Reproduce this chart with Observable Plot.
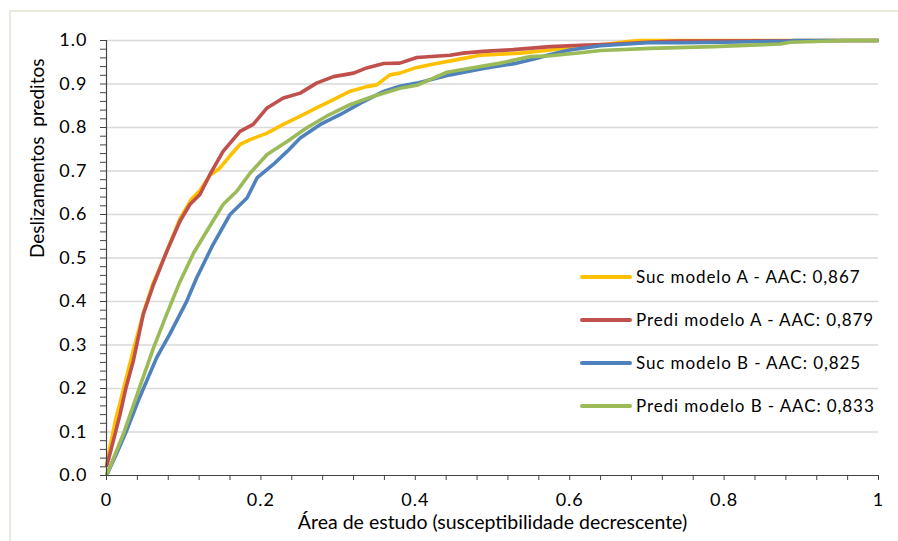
<!DOCTYPE html>
<html><head><meta charset="utf-8">
<script src="https://cdn.jsdelivr.net/npm/d3@7"></script>
<script src="https://cdn.jsdelivr.net/npm/@observablehq/plot@0.6"></script>
<style>
body{margin:0;background:#fff;}
#wrap{position:relative;width:898px;height:541px;overflow:hidden;font-family:Lato,"Open Sans",sans-serif;}
#wrap svg{position:absolute;left:0;top:0;}
#border{position:absolute;left:9px;top:10px;width:1000px;height:1000px;border:2px solid #ebeadf;box-sizing:border-box;}
#legend{position:absolute;left:580px;top:255px;}
.row{display:flex;align-items:center;height:43px;font-size:17px;letter-spacing:0.9px;color:#000;white-space:nowrap;}
.sw{width:52px;height:4px;margin-right:4px;border-radius:2px;}
g[aria-label="y-axis tick label"] text, g[aria-label="x-axis tick label"] text{letter-spacing:1px;}
g[aria-label="xtitle"] text{letter-spacing:0.9px;}
g[aria-label="ytitle"] text{letter-spacing:0.6px;}
</style></head><body>
<div id="wrap"><div id="border"></div></div>
<script>
// ---- data ----
const sucAx = [0,0.005,0.012,0.018,0.025,0.035,0.048,0.06,0.078,0.095,0.11,0.121,0.134,0.147,0.16,0.173,0.186,0.208,0.229,0.251,0.272,0.294,0.315,0.337,0.35,0.367,0.38,0.398,0.419,0.454,0.484,0.536,0.575,0.614,0.65,0.678,0.69,1];
const sucAy = [0.023,0.07,0.13,0.17,0.22,0.29,0.375,0.44,0.515,0.59,0.635,0.655,0.69,0.707,0.735,0.761,0.772,0.787,0.807,0.826,0.845,0.864,0.883,0.894,0.898,0.921,0.925,0.936,0.944,0.956,0.966,0.971,0.978,0.986,0.992,0.998,1,1];
const preAx = [0,0.006,0.0175,0.025,0.0348,0.0477,0.0607,0.078,0.0953,0.108,0.121,0.134,0.151,0.173,0.19,0.208,0.229,0.251,0.272,0.294,0.32,0.337,0.359,0.38,0.402,0.445,0.462,0.488,0.527,0.575,0.614,0.66,0.7,0.739,1];
const preAy = [0.02,0.06,0.14,0.2,0.264,0.371,0.438,0.515,0.585,0.623,0.646,0.692,0.745,0.791,0.807,0.845,0.868,0.879,0.902,0.917,0.925,0.937,0.947,0.948,0.961,0.966,0.971,0.975,0.979,0.986,0.989,0.992,0.996,0.999,1];
const sucBx = [0,0.013,0.026,0.043,0.065,0.082,0.104,0.117,0.138,0.16,0.182,0.195,0.216,0.234,0.251,0.277,0.303,0.329,0.359,0.38,0.402,0.445,0.49,0.532,0.555,0.575,0.6,0.64,0.7,0.743,0.8,0.886,0.89,1];
const sucBy = [0,0.05,0.103,0.18,0.271,0.325,0.401,0.455,0.531,0.6,0.638,0.684,0.715,0.745,0.776,0.807,0.83,0.856,0.883,0.895,0.902,0.921,0.936,0.948,0.958,0.968,0.978,0.988,0.995,0.995,0.996,0.999,1,1];
const preBx = [0,0.022,0.043,0.061,0.078,0.095,0.113,0.13,0.151,0.169,0.186,0.208,0.234,0.259,0.285,0.316,0.346,0.38,0.402,0.441,0.51,0.549,0.575,0.614,0.64,0.704,0.786,0.873,0.886,0.96,1];
const preBy = [0,0.096,0.203,0.294,0.371,0.445,0.512,0.562,0.623,0.654,0.695,0.738,0.768,0.799,0.826,0.853,0.872,0.89,0.897,0.927,0.948,0.963,0.965,0.972,0.977,0.982,0.986,0.992,0.996,1,1];

const seriesNames = ["Suc modelo A - AAC: 0,867","Predi modelo A - AAC: 0,879","Suc modelo B - AAC: 0,825","Predi modelo B - AAC: 0,833"];
const seriesColors = ["#FFC000","#C0504D","#4F81BD","#9BBB59"];
const seriesX = [sucAx, preAx, sucBx, preBx];
const seriesY = [sucAy, preAy, sucBy, preBy];

const yMajor = [0,0.1,0.2,0.3,0.4,0.5,0.6,0.7,0.8,0.9,1.0];
const yMinor = d3.range(0,51).map(i=>i/50);
const xMajor = [0,0.2,0.4,0.6,0.8,1];
const xMinor = d3.range(0,26).map(i=>i/25);
const xTitle = "Área de estudo (susceptibilidade decrescente)";
const yTitle = "Deslizamentos  preditos";

const rows = [];
seriesX.forEach((xs,s)=>xs.forEach((x,i)=>rows.push({s, name: seriesNames[s], x, y: seriesY[s][i]})));

const font = "Lato, 'Open Sans', sans-serif";
const chart = Plot.plot({
  width: 898, height: 541,
  marginLeft: 106, marginRight: 20, marginTop: 40, marginBottom: 66,
  x: {domain:[0,1]},
  y: {domain:[0,1]},
  style: {fontFamily: font, background: "transparent"},
  marks: [
    Plot.ruleY(yMajor.filter(d=>d>0), {stroke:"#d9d9d9", strokeWidth:1.5}),
    ...seriesNames.map((n,s)=>Plot.line(rows.filter(r=>r.s===s), {x:"x", y:"y", stroke: seriesColors[s], strokeWidth:3.6, strokeLinejoin:"round", strokeLinecap:"butt"})),
    Plot.axisY(yMinor, {tickSize:6, stroke:"#444", tickFormat: ()=>"", label:null}),
    Plot.axisY(yMajor, {tickSize:0, tickPadding:19, fontSize:18, tickFormat: d=>d.toFixed(1), color:"#000", label:null}),
    Plot.axisX(xMinor, {tickSize:5, stroke:"#444", tickFormat: ()=>"", label:null}),
    Plot.axisX(xMajor, {tickSize:0, tickPadding:18, fontSize:18, tickFormat: d=> (d===0?"0":d===1?"1":d.toFixed(1)), color:"#000", label:null}),
    Plot.ruleX([0], {stroke:"#444", strokeWidth:1.2}),
    Plot.ruleY([0], {stroke:"#444", strokeWidth:1.2}),
    Plot.text([xTitle], {frameAnchor:"bottom", dy:53, fontSize:19.5, fill:"#000", ariaLabel:"xtitle"}),
    Plot.text([yTitle], {frameAnchor:"left", dx:-69, rotate:-90, fontSize:19, fill:"#000", ariaLabel:"ytitle"})
  ]
});
const wrap = document.getElementById("wrap");
wrap.appendChild(chart);
const leg = document.createElement("div");
leg.id = "legend";
seriesNames.forEach((n,s)=>{
  const r = document.createElement("div"); r.className="row";
  const sw = document.createElement("div"); sw.className="sw"; sw.style.background = seriesColors[s];
  const t = document.createElement("span"); t.textContent = n;
  r.appendChild(sw); r.appendChild(t); leg.appendChild(r);
});
wrap.appendChild(leg);
</script>
</body></html>
